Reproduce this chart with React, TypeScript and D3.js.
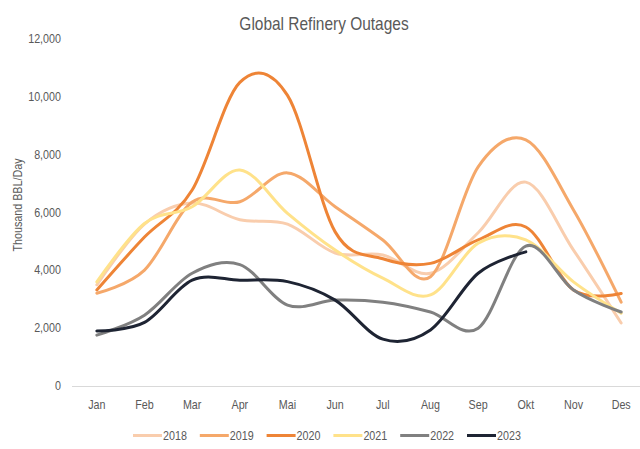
import React from "react";
import * as d3 from "d3";

const months = ["Jan", "Feb", "Mar", "Apr", "Mai", "Jun", "Jul", "Aug", "Sep", "Okt", "Nov", "Des"];
const yTicks = [0, 2000, 4000, 6000, 8000, 10000, 12000];

const y2018 = [3500, 5600, 6330, 5750, 5600, 4600, 4530, 3900, 5300, 7050, 4700, 2180];
const y2019 = [3210, 4010, 6360, 6370, 7370, 6200, 5050, 3780, 7580, 8510, 6090, 2900];
const y2020 = [3320, 5150, 6780, 10500, 10050, 5330, 4400, 4240, 5050, 5500, 3320, 3200];
const y2021 = [3600, 5620, 6200, 7470, 5970, 4700, 3730, 3150, 4940, 5050, 3600, 2520];
const y2022 = [1760, 2450, 3900, 4200, 2800, 2970, 2900, 2560, 2000, 4840, 3320, 2560];
const y2023 = [1900, 2200, 3660, 3660, 3610, 2970, 1620, 1940, 3900, 4640];

const series = [
  { name: "2018", values: y2018, color: "#F9CDAD" },
  { name: "2019", values: y2019, color: "#F5A86A" },
  { name: "2020", values: y2020, color: "#EE8436" },
  { name: "2021", values: y2021, color: "#FFE28A" },
  { name: "2022", values: y2022, color: "#808080" },
  { name: "2023", values: y2023, color: "#1E2433" },
];

const W = 640;
const H = 449;
const FONT = "'Liberation Sans', Arial, sans-serif";
const SX = 0.86;

function T(props: {
  x: number;
  y: number;
  size: number;
  anchor?: string;
  rotate?: number;
  children: React.ReactNode;
}) {
  const { x, y, size, anchor = "start", rotate = 0, children } = props;
  return (
    <text
      transform={`translate(${x},${y}) rotate(${rotate}) scale(${SX},1)`}
      textAnchor={anchor}
      fontFamily={FONT}
      fontSize={size}
      fill="#595959"
    >
      {children}
    </text>
  );
}

export default function App() {
  const x = d3.scaleBand<string>().domain(months).range([73, 645]);
  const y = d3.scaleLinear().domain([0, 12000]).range([386, 39]);
  const cx = (m: string) => (x(m) as number) + x.bandwidth() / 2;
  const line = d3
    .line<number>()
    .x((_, i) => cx(months[i]))
    .y((v) => y(v))
    .curve(d3.curveCardinal.tension(0));

  return (
    <svg width={W} height={H} style={{ position: "absolute", left: 0, top: 0, background: "#fff" }}>
      <rect width={W} height={H} fill="#fff" />
      <T x={324} y={30} size={18} anchor="middle">
        Global Refinery Outages
      </T>
      {yTicks.map((t) => (
        <T key={t} x={61} y={y(t) + 4} size={12.5} anchor="end">
          {d3.format(",")(t)}
        </T>
      ))}
      <T x={22} y={205} size={12.5} anchor="middle" rotate={-90}>
        Thousand BBL/Day
      </T>
      <line x1={72} x2={640} y1={386.5} y2={386.5} stroke="#D9D9D9" strokeWidth={1} />
      {months.map((m) => (
        <T key={m} x={cx(m)} y={409} size={12.5} anchor="middle">
          {m}
        </T>
      ))}
      {series.map((s) => (
        <path
          key={s.name}
          d={line(s.values) || ""}
          fill="none"
          stroke={s.color}
          strokeWidth={3}
          strokeLinecap="round"
          strokeLinejoin="round"
        />
      ))}
      {series.map((s, i) => {
        const lx = 133 + i * 66.8;
        return (
          <g key={s.name}>
            <line x1={lx} x2={lx + 29} y1={435.5} y2={435.5} stroke={s.color} strokeWidth={3} />
            <T x={lx + 30} y={440} size={12.5}>
              {s.name}
            </T>
          </g>
        );
      })}
    </svg>
  );
}
